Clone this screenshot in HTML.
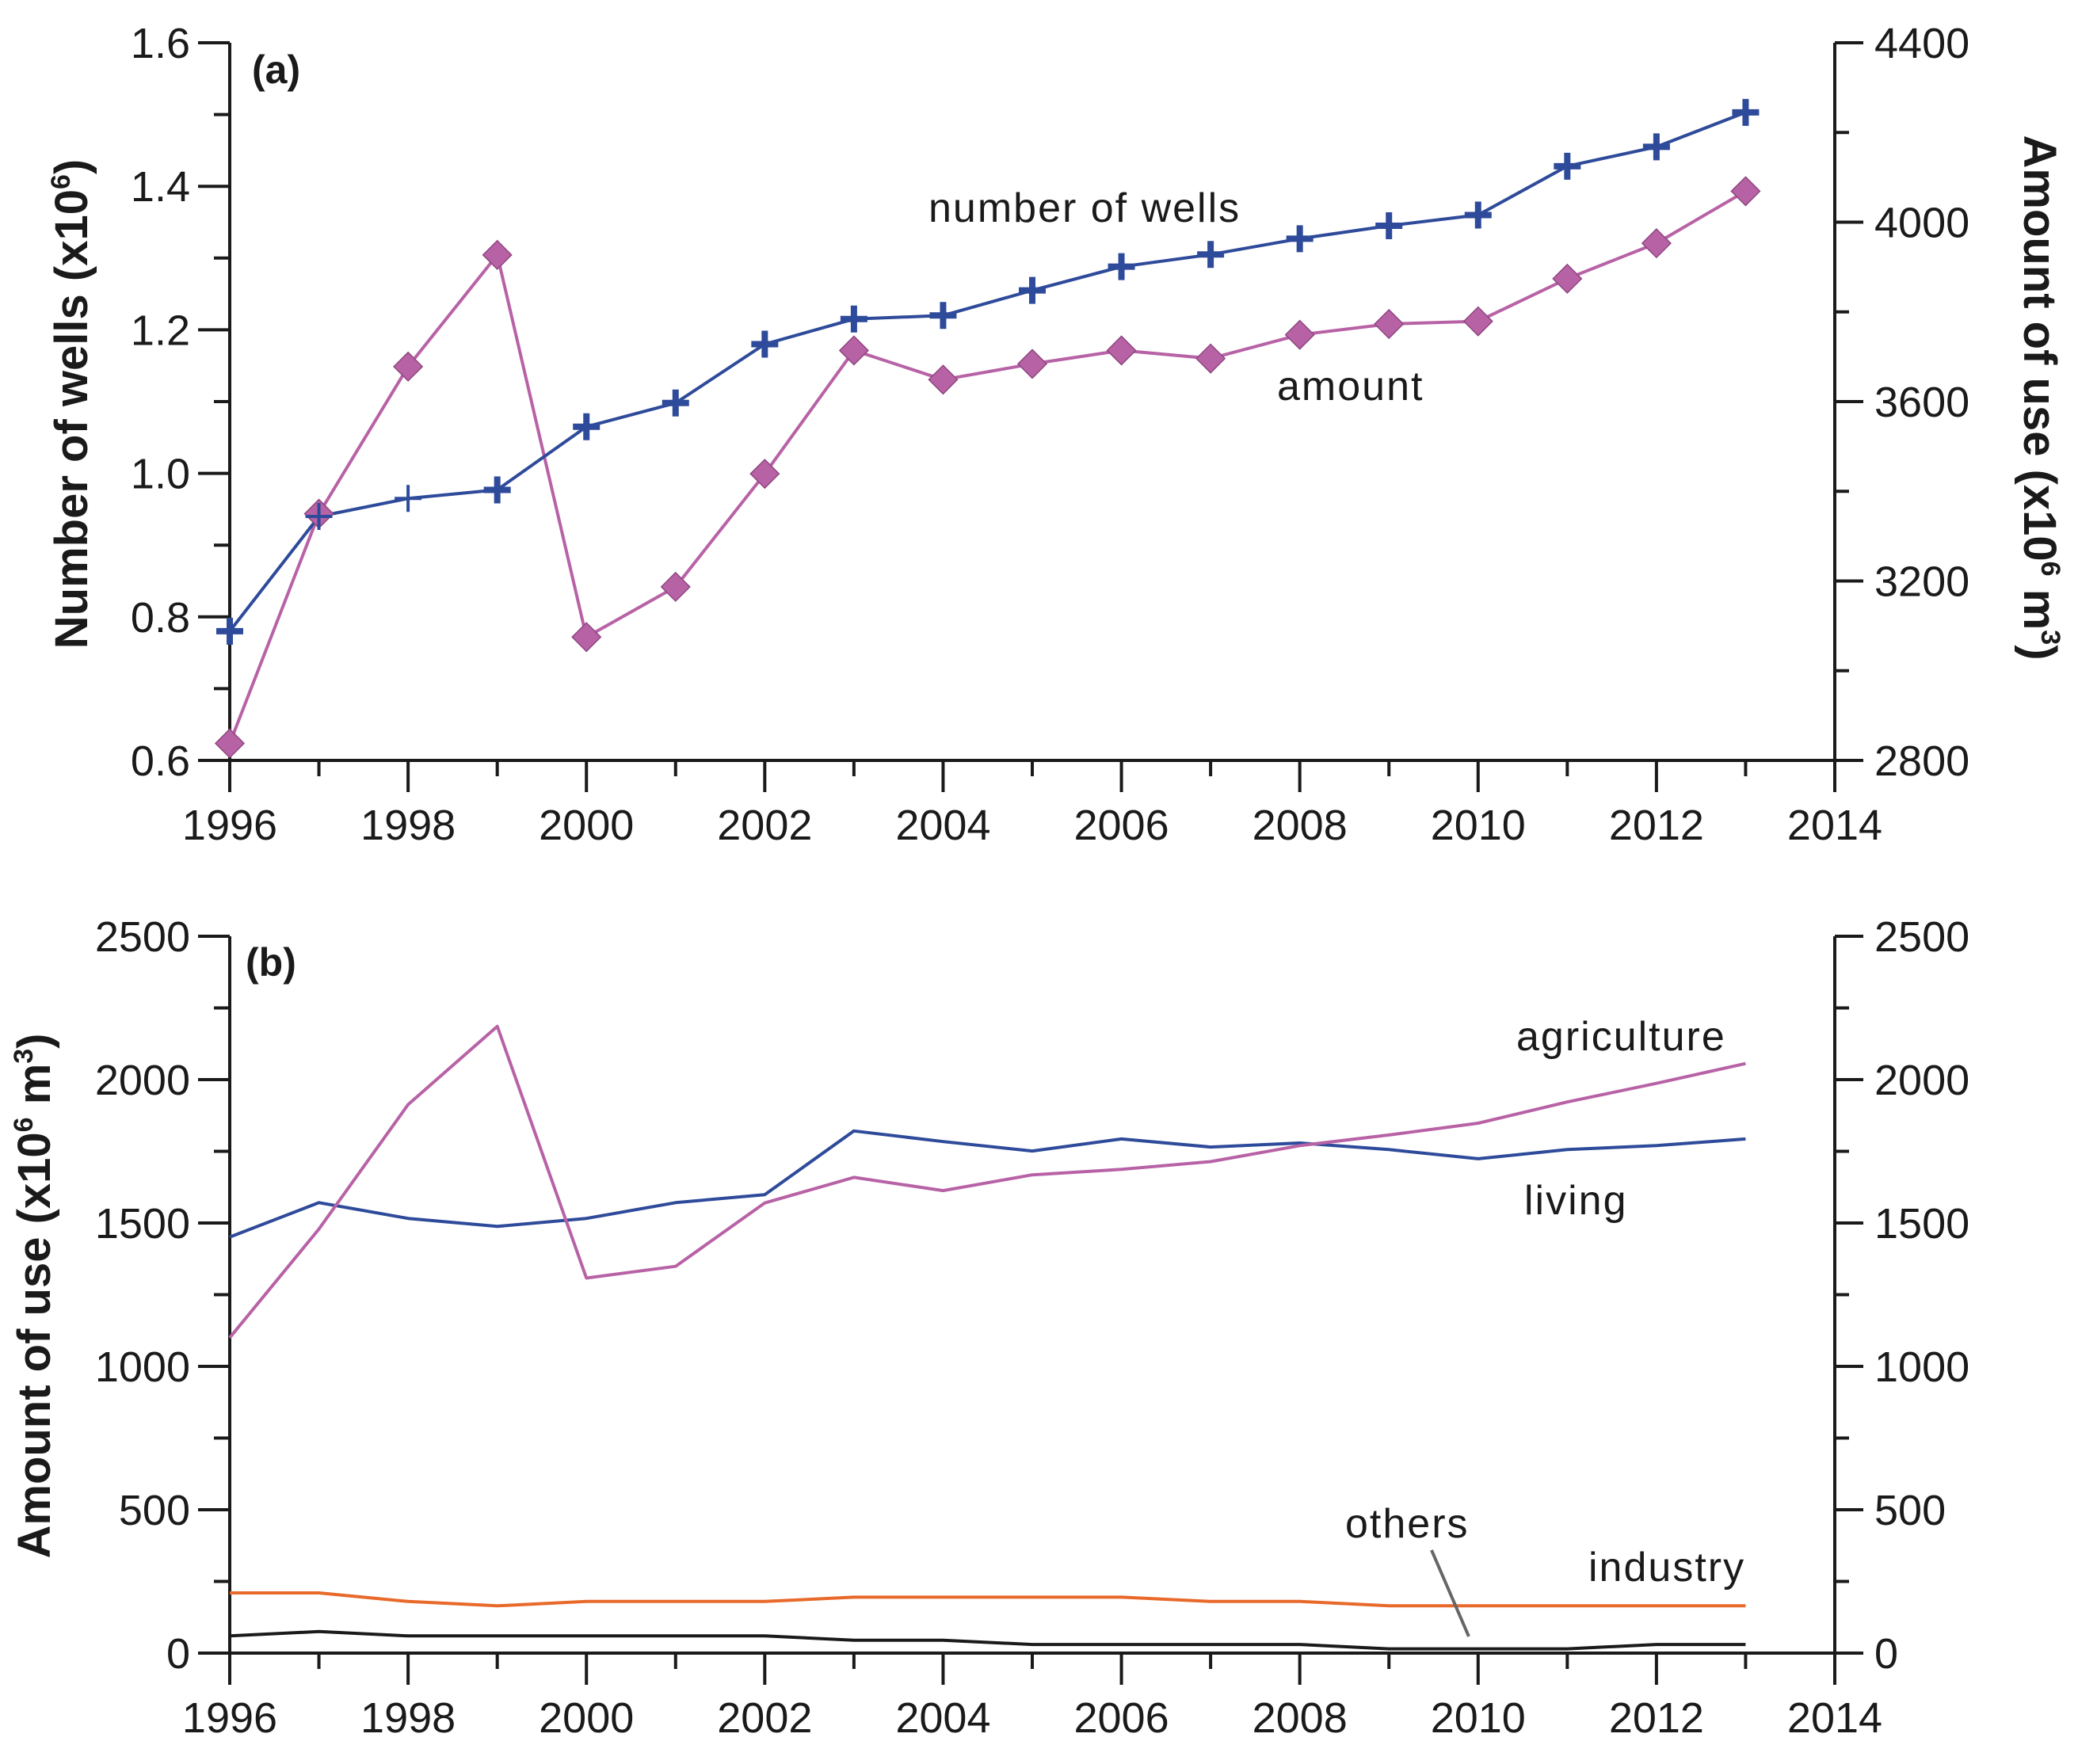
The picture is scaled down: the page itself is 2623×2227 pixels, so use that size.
<!DOCTYPE html>
<html><head><meta charset="utf-8"><style>
html,body{margin:0;padding:0;background:#fff;}
svg{display:block;font-family:"Liberation Sans",Arial,sans-serif;}
</style></head><body>
<svg id="chart" width="2623" height="2227" viewBox="0 0 2623 2227" xmlns="http://www.w3.org/2000/svg"></svg>
<script>
const years=[1996,1997,1998,1999,2000,2001,2002,2003,2004,2005,2006,2007,2008,2009,2010,2011,2012,2013];
const wells=[0.78,0.94,0.965,0.977,1.065,1.098,1.18,1.215,1.22,1.255,1.288,1.305,1.327,1.345,1.36,1.428,1.455,1.503];
const amount=[2838,3350,3678,3927,3075,3187,3439,3714,3649,3684,3714,3696,3749,3773,3779,3874,3953,4069];
const living=[1451,1571,1516,1488,1516,1571,1599,1821,1784,1751,1793,1765,1779,1756,1724,1756,1770,1793];
const agriculture=[1100,1479,1913,2186,1308,1349,1570,1659,1613,1668,1687,1714,1770,1807,1848,1922,1987,2056];
const industry=[210,210,180,165,180,180,180,195,195,195,195,180,180,165,165,165,165,165];
const others=[60,75,60,60,60,60,60,45,45,30,30,30,30,15,15,15,30,30];
const xTicks=[1996,1998,2000,2002,2004,2006,2008,2010,2012,2014];
const wellTicks=[0.6,0.8,1.0,1.2,1.4,1.6];
const amountTicks=[2800,3200,3600,4000,4400];
const useTicks=[0,500,1000,1500,2000,2500];

const NS="http://www.w3.org/2000/svg";
const svg=document.getElementById('chart');
const X0=290,X1=2316;
const x=v=>X0+(v-1996)/(2014-1996)*(X1-X0);
const TA=54,TB=960,BA=1182,BB=2087;
const yW=v=>TB-(v-0.6)/1.0*(TB-TA);
const yA=v=>TB-(v-2800)/1600*(TB-TA);
const yU=v=>BB-v/2500*(BB-BA);
function mk(tag,attrs,parent){const e=document.createElementNS(NS,tag);for(const k in attrs)e.setAttribute(k,attrs[k]);(parent||svg).appendChild(e);return e;}
function txt(s,attrs,parent){const e=mk('text',attrs,parent);e.textContent=s;return e;}

function axes(top,bot,leftTicks,leftFmt,leftMinor,rightTicks,rightMinor,nameP){
  const g=mk('g',{});
  
  
  const st={stroke:'#1a1a1a','stroke-width':4,fill:'none'};
  mk('path',Object.assign({d:`M${X0},${top} V${bot} H${X1} V${top}`},st),g);
  for(let yr=1996;yr<=2014;yr++){
    const major=(yr%2===0);
    mk('line',Object.assign({x1:x(yr),x2:x(yr),y1:bot,y2:bot+(major?40:20)},st),g);
  }
  xTicks.forEach(t=>{const e=txt(String(t),{x:x(t),y:bot+100,'font-size':54,'text-anchor':'middle',fill:'#1a1a1a'},g);
    
    });
  leftMinor.forEach(([py,maj])=>mk('line',Object.assign({x1:X0-(maj?40:20),x2:X0,y1:py,y2:py},st),g));
  rightMinor.forEach(([py,maj])=>mk('line',Object.assign({x1:X1,x2:X1+(maj?36:18),y1:py,y2:py},st),g));
  leftTicks.forEach(([py,s])=>{const e=txt(s,{x:X0-50,y:py+19,'font-size':54,'text-anchor':'end',fill:'#1a1a1a'},g);
    
    });
  rightTicks.forEach(([py,s])=>{const e=txt(s,{x:X1+50,y:py+19,'font-size':54,'text-anchor':'start',fill:'#1a1a1a'},g);
    
    });
}
{
  const lm=[];for(let v=0.6;v<=1.601;v+=0.1)lm.push([yW(v),Math.round(v*10)%2===0]);
  const rm=[];for(let v=2800;v<=4400;v+=200)rm.push([yA(v),v%400===0]);
  axes(TA,TB,wellTicks.map(v=>[yW(v),v.toFixed(1)]),null,lm,amountTicks.map(v=>[yA(v),String(v)]),rm,'top');
}
{
  const lm=[];for(let v=0;v<=2500;v+=250)lm.push([yU(v),v%500===0]);
  axes(BA,BB,useTicks.map(v=>[yU(v),String(v)]),null,lm,useTicks.map(v=>[yU(v),String(v)]),lm,'bottom');
}
function line(vals,yf,color,name,w){
  const d=vals.map((v,i)=>(i?'L':'M')+x(years[i]).toFixed(1)+','+yf(v).toFixed(1)).join(' ');
  const p=mk('path',{d:d,stroke:color,'stroke-width':w||4,fill:'none','stroke-linejoin':'round'});
  
  
}
line(amount,yA,'#b862a6','amount-line');
line(wells,yW,'#2e4a9a','wells-line');
amount.forEach((v,i)=>{const cx=x(years[i]),cy=yA(v),r=18;
  const p=mk('polygon',{points:`${cx},${cy-r} ${cx+r},${cy} ${cx},${cy+r} ${cx-r},${cy}`,fill:'#b862a6',stroke:'#8e4680','stroke-width':1.5});
  
  });
wells.forEach((v,i)=>{const cx=x(years[i]),cy=yW(v),r=17;
  const p=mk('path',{d:`M${cx-r},${cy} H${cx+r} M${cx},${cy-r} V${cy+r}`,stroke:'#2e4a9a','stroke-width':(i===1||i===2)?4:8});
  
  });
line(living,yU,'#2e4a9a','living-line');
line(agriculture,yU,'#b862a6','agriculture-line');
line(industry,yU,'#e8692a','industry-line');
line(others,yU,'#1a1a1a','others-line');
mk('line',{x1:1807,y1:1957,x2:1854,y2:2066,stroke:'#666','stroke-width':4});

function label(s,attrs,name){const e=txt(s,Object.assign({fill:'#1a1a1a'},attrs));
  
  return e;}
label('(a)',{x:318,y:105,'font-size':50,'font-weight':'bold'},'panel-a-label');
label('(b)',{x:310,y:1232,'font-size':50,'font-weight':'bold'},'panel-b-label');
label('number of wells',{x:1172,y:280,'font-size':52,'letter-spacing':2},'wells-series-label');
label('amount',{x:1612,y:505,'font-size':52,'letter-spacing':2},'amount-series-label');
label('agriculture',{x:1914,y:1326,'font-size':52,'letter-spacing':2},'agriculture-series-label');
label('living',{x:1924,y:1533,'font-size':52,'letter-spacing':2},'living-series-label');
label('others',{x:1698,y:1941,'font-size':52,'letter-spacing':2},'others-series-label');
label('industry',{x:2005,y:1996,'font-size':52,'letter-spacing':2},'industry-series-label');
{const e=label('Number of wells (x10',{transform:'translate(110,510) rotate(-90)','font-size':58,'font-weight':'bold','text-anchor':'middle'},'left-y-axis-title-top');
 const s=mk('tspan',{'font-size':34,dy:-22},e);s.textContent='6';const s2=mk('tspan',{dy:22},e);s2.textContent=')';}
{const e=label('Amount of use (x10',{transform:'translate(2555,502) rotate(90)','font-size':58,'font-weight':'bold','text-anchor':'middle'},'right-y-axis-title-top');
 const s=mk('tspan',{'font-size':34,dy:-22},e);s.textContent='6';const s2=mk('tspan',{dy:22},e);s2.textContent=' m';const s3=mk('tspan',{'font-size':34,dy:-22},e);s3.textContent='3';const s4=mk('tspan',{dy:22},e);s4.textContent=')';}
{const e=label('Amount of use (x10',{transform:'translate(63,1636) rotate(-90)','font-size':58,'font-weight':'bold','text-anchor':'middle'},'left-y-axis-title-bottom');
 const s=mk('tspan',{'font-size':34,dy:-22},e);s.textContent='6';const s2=mk('tspan',{dy:22},e);s2.textContent=' m';const s3=mk('tspan',{'font-size':34,dy:-22},e);s3.textContent='3';const s4=mk('tspan',{dy:22},e);s4.textContent=')';}
</script>
</body></html>
